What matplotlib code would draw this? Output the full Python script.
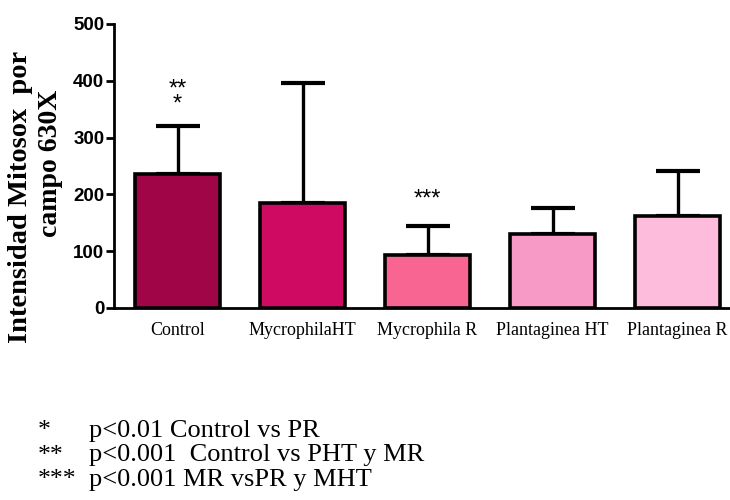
import matplotlib.pyplot as plt
import numpy as np

# datos (media y limite superior del error)
grupos = ['Control', 'MycrophilaHT', 'Mycrophila R', 'Plantaginea HT', 'Plantaginea R']
medias = [236, 184, 93, 130, 162]
sup_error = [320, 396, 144, 176, 241]
colores = ['#A00548', '#CE0A63', '#F86593', '#F79AC6', '#FDBCDB']

signif_grupo = ['Control', 'Mycrophila R']
signif_texto = ['**\n*', '***']
signif_y = [348, 180]

leyenda_stars = ['*', '**', '***']
leyenda_texto = ['p<0.01 Control vs PR',
                 'p<0.001  Control vs PHT y MR',
                 'p<0.001 MR vsPR y MHT']

serif = ['Liberation Serif', 'DejaVu Serif']
sans = ['Liberation Sans', 'DejaVu Sans']

fig = plt.figure(figsize=(7.3, 5.0), dpi=100)
ax = fig.add_axes([0.1562, 0.384, 0.8438, 0.568])

x = np.arange(len(grupos))
err = np.array(sup_error) - np.array(medias)
ax.bar(x, medias, width=0.68, color=colores, edgecolor='black', linewidth=2.6, zorder=3)
ax.errorbar(x, medias, yerr=[np.zeros(len(x)), err], fmt='none', ecolor='black',
            elinewidth=2.4, capsize=16, capthick=3, zorder=2)

ax.set_xlim(-0.508, 4.42)
ax.set_ylim(0, 500)
ax.set_yticks([0, 100, 200, 300, 400, 500])
ax.set_yticklabels(['0', '100', '200', '300', '400', '500'],
                   fontsize=13.5, fontweight='bold', family=sans)
ax.tick_params(axis='y', length=6, width=2, direction='out', pad=1)

ax.set_xticks(x)
ax.set_xticklabels(grupos, fontsize=13, family=serif)
ax.tick_params(axis='x', length=0, pad=10)
ax.set_xticks([2], minor=True)
ax.tick_params(axis='x', which='minor', length=5, width=2, direction='out')

for s in ['top', 'right']:
    ax.spines[s].set_visible(False)
for s in ['left', 'bottom']:
    ax.spines[s].set_linewidth(2)

for g, t, yv in zip(signif_grupo, signif_texto, signif_y):
    ax.text(grupos.index(g), yv, t, ha='center', va='baseline', multialignment='center',
            linespacing=0.6, fontsize=17, family=sans)

# etiqueta del eje y (dos lineas)
fig.text(21 / 730, 1 - 197 / 500, 'Intensidad Mitosox  por', rotation=90,
         ha='center', va='center', fontsize=20.5, fontweight='bold', family=serif)
fig.text(51 / 730, 1 - 163 / 500, 'campo 630X', rotation=90,
         ha='center', va='center', fontsize=20, fontweight='bold', family=serif)

# leyenda de significancia
for i, (st, tx) in enumerate(zip(leyenda_stars, leyenda_texto)):
    yb = 1 - (437 + 24.5 * i) / 500
    fig.text(38 / 730, yb, st, ha='left', va='baseline', fontsize=18.5, family=serif)
    fig.text(89 / 730, yb, tx, ha='left', va='baseline', fontsize=19, family=serif)

fig.savefig('out.png', dpi=100)
